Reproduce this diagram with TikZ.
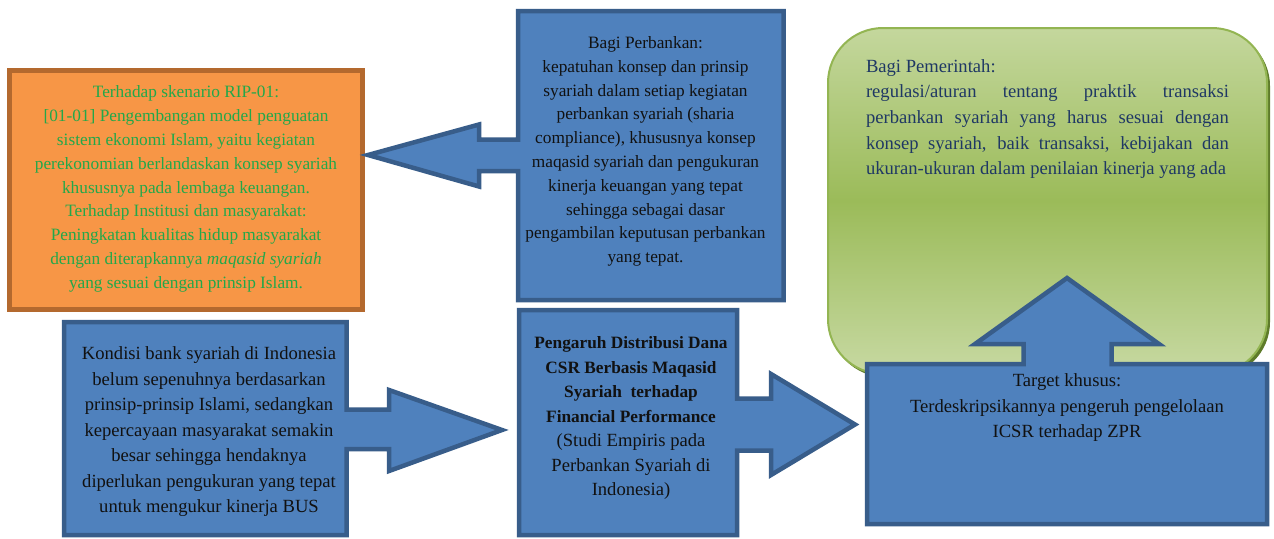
\documentclass[tikz,border=0pt]{standalone}
\usepackage{fontspec}
\setmainfont{Liberation Serif}
\definecolor{bfill}{HTML}{4F81BD}
\definecolor{bline}{HTML}{385D8A}
\definecolor{ofill}{HTML}{F79646}
\definecolor{oline}{HTML}{B4692E}
\definecolor{otext}{HTML}{22A84A}
\definecolor{gtop}{HTML}{C4D79D}
\definecolor{gmid}{HTML}{9BBB59}
\definecolor{gline}{HTML}{93B552}
\definecolor{gshadow}{HTML}{5E7B2A}
\definecolor{ntext}{HTML}{1F3864}
\definecolor{ktext}{HTML}{111111}
\newcommand{\bt}[1]{{\fontsize{17.3}{24.5}\selectfont\bfseries #1}}
\begin{document}
\begin{tikzpicture}[x=1pt,y=-1pt,
  callout/.style={fill=bfill, draw=bline, line width=4.5pt, line join=miter},
  bigtxt/.style={align=center, inner sep=0pt, text=ktext, font=\fontsize{18.6}{25.5}\selectfont},
  smalltxt/.style={align=center, inner sep=0pt, font=\fontsize{17.3}{23.8}\selectfont}]
\useasboundingbox (0,0) rectangle (1274,538);
\fill[white] (0,0) rectangle (1274,538);

% green rounded box (government)
\fill[gshadow, rounded corners=55pt] (830,31) rectangle (1270,377);
\shade[top color=gtop, bottom color=gtop!95!white, middle color=gmid, rounded corners=55pt] (828,28) rectangle (1267,374);
\draw[gline, line width=2pt, rounded corners=55pt] (828,28) rectangle (1267,374);
\node[inner sep=0pt, align=left, text=ntext, font=\fontsize{18.6}{25.7}\selectfont] (gov) at (1047.5,119)
{Bagi Pemerintah:\\
\makebox[363pt][s]{regulasi/aturan tentang praktik transaksi}\\
\makebox[363pt][s]{perbankan syariah yang harus sesuai dengan}\\
\makebox[363pt][s]{konsep syariah, baik transaksi, kebijakan dan}\\
ukuran-ukuran dalam penilaian kinerja yang ada};

% orange box
\draw[fill=ofill, draw=oline, line width=5pt] (9.8,70.5) rectangle (362.6,309.6);
\node[smalltxt, text=otext] (rip) at (186,189)
{Terhadap skenario RIP-01:\\
{[01-01]} Pengembangan model penguatan\\
sistem ekonomi Islam, yaitu kegiatan\\
perekonomian berlandaskan konsep syariah\\
khususnya pada lembaga keuangan.\\
Terhadap Institusi dan masyarakat:\\
Peningkatan kualitas hidup masyarakat\\
dengan diterapkannya \textit{maqasid syariah}\\
yang sesuai dengan prinsip Islam.};

% top-middle callout (left arrow)
\draw[callout] (518,11) -- (783.5,11) -- (783.5,300) -- (518,300) -- (518,171) -- (479,171)
  -- (479,186.5) -- (368,155) -- (479,124.5) -- (479,139.5) -- (518,139.5) -- cycle;
\node[smalltxt, text=ktext] (bank) at (645.5,151.4)
{Bagi Perbankan:\\
kepatuhan konsep dan prinsip\\
syariah dalam setiap kegiatan\\
perbankan syariah (sharia\\
compliance), khususnya konsep\\
maqasid syariah dan pengukuran\\
kinerja keuangan yang tepat\\
sehingga sebagai dasar\\
pengambilan keputusan perbankan\\
yang tepat.};

% bottom-left callout (right arrow)
\draw[callout] (64,322) -- (346.5,322) -- (346.5,409.5) -- (389,409.5) -- (389,390)
  -- (502,430) -- (389,471) -- (389,449) -- (346.5,449) -- (346.5,535) -- (64,535) -- cycle;
\node[bigtxt] (kond) at (209,432)
{Kondisi bank syariah di Indonesia\\
belum sepenuhnya berdasarkan\\
prinsip-prinsip Islami, sedangkan\\
kepercayaan masyarakat semakin\\
besar sehingga hendaknya\\
diperlukan pengukuran yang tepat\\
untuk mengukur kinerja BUS};

% bottom-middle callout (right arrow)
\draw[callout] (519,310) -- (737,310) -- (737,398.5) -- (771,398.5) -- (771,374)
  -- (855,424.5) -- (771,475) -- (771,450.5) -- (737,450.5) -- (737,535) -- (519,535) -- cycle;
\node[bigtxt, font=\fontsize{18.6}{24.5}\selectfont] (judul) at (631,418)
{\bt{Pengaruh Distribusi Dana}\\
\bt{CSR Berbasis Maqasid}\\
\bt{Syariah\ \ terhadap}\\
\bt{Financial Performance}\\
(Studi Empiris pada\\
Perbankan Syariah di\\
Indonesia)};

% bottom-right callout (up arrow)
\draw[callout] (867,364) -- (1023.5,364) -- (1023.5,344) -- (975,344) -- (1067,278)
  -- (1159,344) -- (1111.5,344) -- (1111.5,364) -- (1267,364) -- (1267,524) -- (867,524) -- cycle;
\node[bigtxt] (target) at (1067,407.6)
{Target khusus:\\
Terdeskripsikannya pengeruh pengelolaan\\
ICSR terhadap ZPR};
\end{tikzpicture}
\end{document}
